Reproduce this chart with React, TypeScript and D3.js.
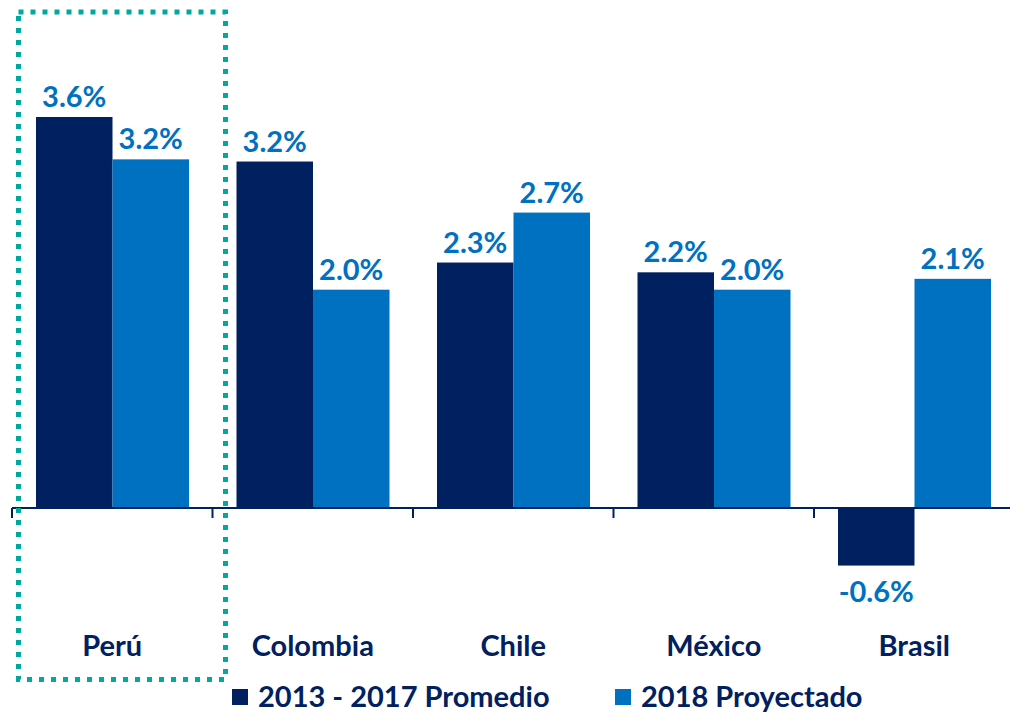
import React from "react";
import * as d3 from "d3";

const categories = ["Perú", "Colombia", "Chile", "México", "Brasil"];
const seriesNames = ["2013 - 2017 Promedio", "2018 Proyectado"];
const promedio = [3.6, 3.19, 2.26, 2.17, -0.53];
const proyectado = [3.21, 2.01, 2.72, 2.01, 2.11];
const promedioLabels = ["3.6%", "3.2%", "2.3%", "2.2%", "-0.6%"];
const proyectadoLabels = ["3.2%", "2.0%", "2.7%", "2.0%", "2.1%"];

const W = 1010;
const H = 713;
const DARK = "#002060";
const LIGHT = "#0070C0";
const TEAL = "#00A89E";
const FONT = "Lato, 'Open Sans', sans-serif";

export default function App() {
  const x = d3.scaleBand<string>().domain(categories).range([12, 12 + 200.5 * 5]);
  const inner = d3.scaleBand<string>().domain(["a", "b"]).range([24, 177]);
  const y = d3.scaleLinear().domain([0, 3.6]).range([508, 117]);
  const y0 = y(0);

  const series = [
    { key: "a", values: promedio, labels: promedioLabels, color: DARK },
    { key: "b", values: proyectado, labels: proyectadoLabels, color: LIGHT },
  ];

  const ticks = d3.range(categories.length + 1).map((i) => 12 + i * x.bandwidth());

  return (
    <svg width={W} height={H} style={{ position: "absolute", left: 0, top: 0, background: "#fff" }}>
      {series.map((s) =>
        categories.map((c, i) => {
          const v = s.values[i];
          const bx = (x(c) as number) + (inner(s.key) as number);
          const top = Math.min(y(v), y0);
          const h = Math.abs(y(v) - y0);
          const lx = bx + inner.bandwidth() / 2;
          const ly = v >= 0 ? y(v) - 10 : y(v) + 36;
          return (
            <g key={s.key + c}>
              <rect x={bx} y={top} width={inner.bandwidth()} height={h} fill={s.color} />
              <text
                x={lx}
                y={ly}
                textAnchor="middle"
                fontFamily={FONT}
                fontWeight="bold"
                fontSize={29}
                fill={LIGHT}
              >
                {s.labels[i]}
              </text>
            </g>
          );
        })
      )}
      <line x1={12} x2={W} y1={y0} y2={y0} stroke={DARK} strokeWidth={2} />
      {ticks.map((t, i) => (
        <line key={i} x1={t} x2={t} y1={y0} y2={y0 + 10} stroke={DARK} strokeWidth={2} />
      ))}
      {categories.map((c) => (
        <text
          key={c}
          x={(x(c) as number) + x.bandwidth() / 2}
          y={656}
          textAnchor="middle"
          fontFamily={FONT}
          fontWeight="bold"
          fontSize={29}
          fill={DARK}
        >
          {c}
        </text>
      ))}
      <rect
        x={18.5}
        y={12}
        width={207}
        height={667.5}
        fill="none"
        stroke={TEAL}
        strokeWidth={5}
        strokeDasharray="5 7"
      />
      {[
        { name: seriesNames[0], color: DARK, x: 232 },
        { name: seriesNames[1], color: LIGHT, x: 615 },
      ].map((l) => (
        <g key={l.name}>
          <rect x={l.x} y={689} width={16} height={16} fill={l.color} />
          <text x={l.x + 26} y={707} fontFamily={FONT} fontWeight="bold" fontSize={29} fill={DARK}>
            {l.name}
          </text>
        </g>
      ))}
    </svg>
  );
}
